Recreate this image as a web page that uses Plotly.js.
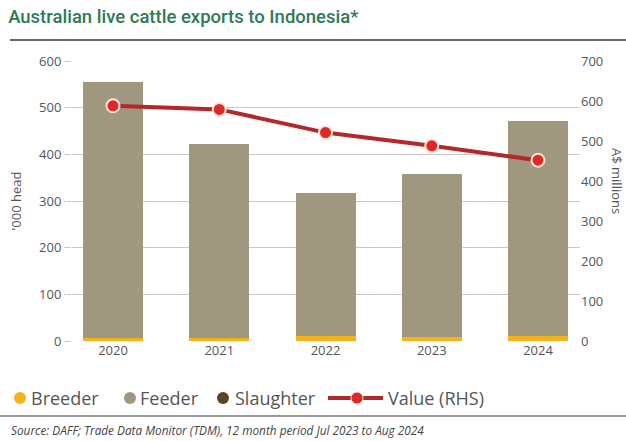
<!DOCTYPE html>
<html><head><meta charset="utf-8">
<script src="https://cdn.plot.ly/plotly-3.0.1.min.js"></script>
<style>html,body{margin:0;padding:0;background:#fff}#chart{width:626px;height:441px}</style>
</head><body><div id="chart"></div>
<script>
const years = ['2020','2021','2022','2023','2024'];
const breeder = [7, 6, 11, 9, 11];
const feeder = [548, 416, 306, 349, 460];
const slaughter = [0, 0, 0, 0, 0];
const valueRHS = [588, 579, 521, 488, 452];
const leftTicks = [0,100,200,300,400,500,600];
const rightTicks = [0,100,200,300,400,500,600,700];
const legendNames = ['Breeder','Feeder','Slaughter','Value (RHS)'];

const cBreeder = '#f4b21c', cFeeder = '#a0977f', cSlaughter = '#5a4326';
const cLine = '#b3282b', cDot = '#dd2a26';
const font = 'Open Sans, Lato, sans-serif';

// plot area geometry (pixels) used to place non-data decorations
const L = 72, R = 46, T = 61, B = 100, W = 626, H = 441;
const PW = W - L - R, PH = H - T - B;
const px = x => (x - L) / PW;          // page x -> paper x
const py = y => (H - B - y) / PH;      // page y -> paper y

const traces = [
  {type:'bar', x:years, y:breeder, name:legendNames[0], marker:{color:cBreeder}, showlegend:false, hoverinfo:'skip'},
  {type:'bar', x:years, y:feeder, name:legendNames[1], marker:{color:cFeeder}, showlegend:false, hoverinfo:'skip'},
  {type:'bar', x:years, y:slaughter, name:legendNames[2], marker:{color:cSlaughter}, showlegend:false, hoverinfo:'skip'},
  {type:'scatter', mode:'lines+markers', x:years, y:valueRHS, yaxis:'y2', name:legendNames[3], showlegend:false,
   line:{color:cLine, width:4}, marker:{color:cDot, size:13, line:{color:'#fbe3d6', width:2}}}
];

const legY = 398;
const legItems = [
  {sym:'dot', color:cBreeder, cx:20, tx:31, name:legendNames[0]},
  {sym:'dot', color:cFeeder, cx:130, tx:140, name:legendNames[1]},
  {sym:'dot', color:cSlaughter, cx:223, tx:235, name:legendNames[2]},
  {sym:'line', color:cLine, cx:357, tx:388, name:legendNames[3]}
];
const shapes = [
  {type:'line', xref:'paper', yref:'paper', x0:px(10), x1:px(626), y0:py(40), y1:py(40), line:{color:'#333', width:1.5}},
  {type:'line', xref:'paper', yref:'paper', x0:px(0), x1:px(626), y0:py(416), y1:py(416), line:{color:'#333', width:1.2}}
];
const annotations = [
  {text:'<i>Source: DAFF; Trade Data Monitor (TDM), 12 month period Jul 2023 to Aug 2024</i>', xref:'paper', yref:'paper',
   x:px(9), xanchor:'left', y:py(430), yanchor:'middle', showarrow:false, font:{size:11.8, color:'#444'}},
  {text:'A$ millions', xref:'paper', yref:'paper', x:px(617), xanchor:'center', y:py(181), yanchor:'middle',
   textangle:90, showarrow:false, font:{size:13, color:'#555'}}
];
legItems.forEach(it => {
  if (it.sym === 'dot') {
    shapes.push({type:'circle', xref:'paper', yref:'paper', xsizemode:'pixel', ysizemode:'pixel',
      xanchor:px(it.cx), yanchor:py(legY), x0:-6, x1:6, y0:-6, y1:6, fillcolor:it.color, line:{width:0}});
  } else {
    shapes.push({type:'line', xref:'paper', yref:'paper', x0:px(it.cx-29), x1:px(it.cx+26), y0:py(legY), y1:py(legY),
      line:{color:it.color, width:4}});
    shapes.push({type:'circle', xref:'paper', yref:'paper', xsizemode:'pixel', ysizemode:'pixel',
      xanchor:px(it.cx), yanchor:py(legY), x0:-6, x1:6, y0:-6, y1:6, fillcolor:cDot, line:{color:'#fbe3d6', width:1}});
  }
  annotations.push({text:it.name, xref:'paper', yref:'paper', x:px(it.tx), xanchor:'left', y:py(legY), yanchor:'middle',
    showarrow:false, xshift:-2, font:{size:18, color:'#555'}});
});

const layout = {
  width:W, height:H,
  margin:{l:L, r:R, t:T, b:B},
  paper_bgcolor:'#fff', plot_bgcolor:'#fff',
  barmode:'stack', bargap:0.435, showlegend:false,
  font:{family:font, color:'#555', size:13},
  title:{text:'Australian live cattle exports to Indonesia*', x:0.013, xanchor:'left', y:0.962, yanchor:'middle',
         font:{family:'Roboto, Open Sans, sans-serif', size:18.5, color:'#2d7a58', weight:500}},
  xaxis:{type:'category', range:[-0.386, 4.395], showgrid:false, zeroline:false, showline:false, ticks:'',
         tickfont:{size:13, color:'#555'}, fixedrange:true},
  yaxis:{range:[0,600], tickvals:leftTicks, showgrid:true, gridcolor:'#c8c8c8', gridwidth:1, zeroline:false,
         ticks:'outside', ticklen:7, tickcolor:'#c8c8c8', tickfont:{size:13, color:'#555'},
         title:{text:"'000 head", font:{size:13, color:'#555'}, standoff:14}},
  yaxis2:{overlaying:'y', side:'right', range:[0,700], tickvals:rightTicks, showgrid:false, zeroline:false,
          ticks:'', tickfont:{size:13, color:'#555'}},
  shapes:shapes,
  annotations:annotations
};

Plotly.newPlot('chart', traces, layout, {displayModeBar:false, staticPlot:true});
</script></body></html>
